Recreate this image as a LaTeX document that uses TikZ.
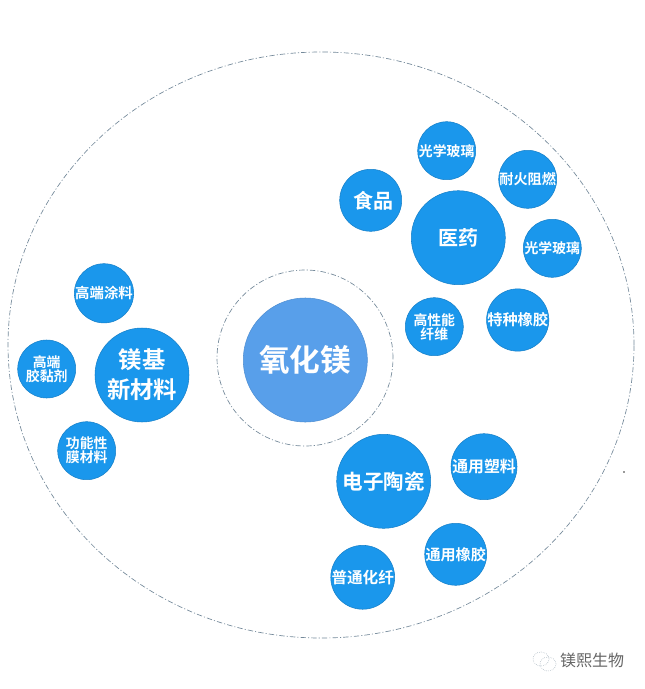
\documentclass[tikz,border=0pt]{standalone}
\usepackage{fontspec}
\newfontfamily\cjk{Noto Sans CJK SC Bold}[BoldFont={Noto Sans CJK SC Bold}]
\newfontfamily\cjklight{Noto Sans CJK SC}
\definecolor{bubble}{HTML}{1A97EC}
\definecolor{core}{HTML}{589FEA}
\definecolor{ringc}{HTML}{74899A}
\tikzset{
  x=0.75pt,y=-0.75pt,
  ball/.style={circle,inner sep=0pt,outer sep=0pt,fill=bubble,draw=bubble!85!black,line width=0.4pt,text=white,align=center,font=\cjk},
  small/.style={ball,minimum size=58*0.75pt,font=\cjk\fontsize{10.4pt}{12pt}\selectfont},
  mid/.style={ball,minimum size=62*0.75pt,font=\cjk\fontsize{11.4pt}{12pt}\selectfont},
  big/.style={ball,minimum size=94*0.75pt,font=\cjk\fontsize{15pt}{25pt}\selectfont},
  ring/.style={draw=ringc,line width=0.5pt,dash pattern=on 4pt off 1.6pt on 0.8pt off 1.6pt},
}
\begin{document}
\begin{tikzpicture}
\useasboundingbox (0,0) rectangle (644,689);
\fill[white] (0,0) rectangle (644,689);
\draw[ring] (321,345) ellipse [x radius=313*0.75pt,y radius=293*0.75pt];
\draw[ring] (305,358) circle [radius=88*0.75pt];
\node[ball,minimum size=124*0.75pt,fill=core,draw=core!90!black,font=\cjk\fontsize{23pt}{25pt}\selectfont] (core) at (305.3,360) {氧化镁};
% pharmaceutical group
\node[big] (yiyao) at (458.3,237.7) {医药};
\node[small] (gx1) at (446.7,150.7) {光学玻璃};
\node[small,font=\cjk\fontsize{10.6pt}{12pt}\selectfont] (nh) at (527.7,179.3) {耐火阻燃};
\node[mid,font=\cjk\fontsize{15pt}{16pt}\selectfont] (sp) at (370.7,200.3) {\hspace*{4.5pt}食品};
\node[small] (gx2) at (552.3,248.3) {光学玻璃};
\node[mid] (tz) at (517.7,320) {特种橡胶};
\node[small] (gx) at (434.3,326.7) {高性能\\[-1.5pt]纤维};
% magnesium-based materials
\node[big,font=\cjk\fontsize{17.5pt}{22.5pt}\selectfont] (mj) at (142,375) {镁基\\新材料};
\node[small,font=\cjk\fontsize{10.8pt}{12pt}\selectfont] (td) at (104,293.3) {高端涂料};
\node[small] (nj) at (46.7,369) {高端\\[-1.5pt]胶黏剂};
\node[small] (gn) at (86.7,450.7) {功能性\\[-1.5pt]膜材料};
% electronic ceramics
\node[big,font=\cjk\fontsize{15.4pt}{18pt}\selectfont] (dz) at (383.7,481.3) {电子陶瓷};
\node[ball,minimum size=66*0.75pt,font=\cjk\fontsize{11.9pt}{12pt}\selectfont] (sl) at (484,466.7) {通用塑料};
\node[ball,minimum size=60*0.75pt,font=\cjk\fontsize{11.3pt}{12pt}\selectfont] (xj) at (455.7,554.3) {通用橡胶};
\node[mid,minimum size=63*0.75pt,font=\cjk\fontsize{11.7pt}{12pt}\selectfont] (hx) at (362.7,577.3) {普通化纤};
% watermark
\draw[ringc!80,line width=0.4pt,densely dotted] (541,659) ellipse [x radius=8*0.75pt,y radius=7*0.75pt];
\draw[ringc!80,line width=0.4pt,densely dotted] (548,664) ellipse [x radius=8*0.75pt,y radius=7*0.75pt];
\node[inner sep=0pt,text=black!60,font=\cjklight\fontsize{12pt}{14pt}\selectfont] (wm) at (592,660) {镁熙生物};
\fill[black!80] (624,472) circle [radius=0.6pt];
\end{tikzpicture}
\end{document}
